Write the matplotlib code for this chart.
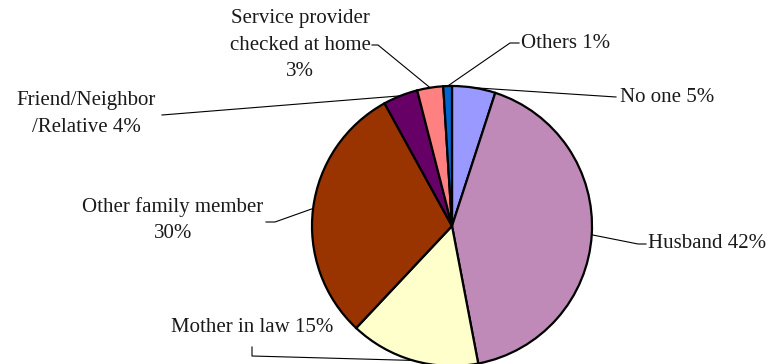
import numpy as np
import matplotlib
matplotlib.use('Agg')
import matplotlib.pyplot as plt
from matplotlib.lines import Line2D

W, H = 769, 364

# who checked on the respondent, clockwise from 12 o'clock
categories = ['No one', 'Husband', 'Mother in law', 'Other family member',
              'Friend/Neighbor/Relative', 'Service provider checked at home', 'Others']
shares = [5, 42, 15, 30, 4, 3, 1]
label_fmt = ['No one {}%', 'Husband {}%', 'Mother in law {}%',
             'Other family member\n{}%', 'Friend/Neighbor\n/Relative {}%',
             'Service provider\nchecked at home\n{}%', 'Others {}%']
colors = ['#9999ff', '#bf8ab8', '#ffffcc', '#993300', '#660066', '#ff8080', '#0066cc']

# label placement in pixels (x, y from top) and the bent part of each leader line
label_pos = [(620, 97), (648, 243), (252, 327), (173, 220), (86, 114), (300, 45), (521, 43)]
label_ha = ['left', 'left', 'center', 'center', 'center', 'center', 'left']
leader_pts = [[(616, 97)],
              [(646, 244), (638, 244)],
              [(252, 347), (252, 356)],
              [(266, 222), (275, 222)],
              [(162, 115)],
              [(372, 45), (378, 45)],
              [(519, 43), (510, 43)]]

cx, cy, R = 452, 226, 140


def fx(x):
    return x / W


def fy(y):
    return 1 - y / H


fig = plt.figure(figsize=(W / 100, H / 100), dpi=100)
ax = fig.add_axes([fx(cx - R), fy(cy + R), 2 * R / W, 2 * R / H])
wedges, _ = ax.pie(shares, colors=colors, startangle=90, counterclock=False,
                   wedgeprops=dict(edgecolor='black', linewidth=1.6))
for w in wedges:
    w.set_clip_on(False)
ax.set_xlim(-1, 1)
ax.set_ylim(-1, 1)
ax.axis('off')

to_fig = fig.transFigure.inverted()
font = dict(family=['Liberation Serif', 'DejaVu Serif'], size=15, color='#1a1a1a')

cum = np.cumsum([0] + shares[:-1])
for i, v in enumerate(shares):
    theta = np.deg2rad(90 - 360 * (cum[i] + v / 2) / sum(shares))
    edge = ax.transData.transform((np.cos(theta), np.sin(theta)))
    ex, ey = to_fig.transform(edge)
    xs = [fx(p[0]) for p in leader_pts[i]] + [ex]
    ys = [fy(p[1]) for p in leader_pts[i]] + [ey]
    fig.add_artist(Line2D(xs, ys, color='black', linewidth=0.8,
                          transform=fig.transFigure, clip_on=False))

    lx, ly = label_pos[i]
    fig.text(fx(lx), fy(ly), label_fmt[i].format(v), ha=label_ha[i], va='center',
             multialignment='center', linespacing=1.5, **font)

fig.savefig('out.png', dpi=100, facecolor='white')
